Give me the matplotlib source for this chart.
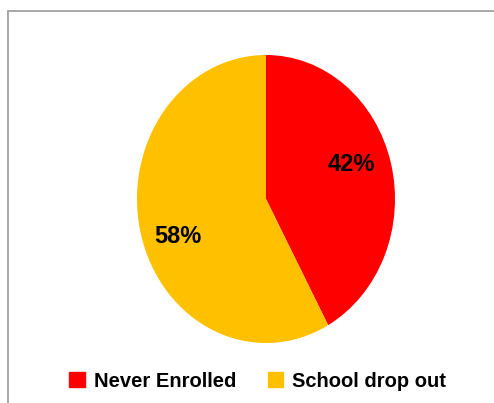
import matplotlib
matplotlib.use("Agg")
import matplotlib.pyplot as plt
import matplotlib.patches as mpatches

# data
labels = ["Never Enrolled", "School drop out"]
shares = [42, 58]
colors = ["#FF0000", "#FFC000"]

FONT = "Liberation Sans"

W, H = 494, 403
fig = plt.figure(figsize=(W / 100, H / 100), dpi=100)

# grey chart-area border (runs off the right and bottom edges)
fig.patches.append(mpatches.Rectangle(
    (8 / W, -0.05), 1.1, (H - 11) / H + 0.05, transform=fig.transFigure,
    facecolor="none", edgecolor="#A0A0A0", linewidth=1.3, zorder=0))

# pie occupies the (slightly stretched) ellipse box
ax = fig.add_axes([137 / W, (H - 343) / H, 258 / W, 288 / H])
wedges, texts = ax.pie(shares, colors=colors, startangle=90, counterclock=False,
                       radius=1.0, wedgeprops=dict(linewidth=0))
ax.set_aspect("auto")
ax.set_xlim(-1, 1)
ax.set_ylim(-1, 1)
ax.axis("off")

# percentage labels
lab_pos = [(0.66, 0.24), (-0.68, -0.26)]
for (x, y), v in zip(lab_pos, shares):
    ax.text(x, y, f"{v}%", ha="center", va="center", fontsize=17,
            fontweight="bold", family=FONT, color="black")

handles = [mpatches.Patch(color=c, label=l) for c, l in zip(colors, labels)]
fig.legend(handles=handles, loc="center", bbox_to_anchor=(0.522, 0.054), ncol=2,
           frameon=False, prop=dict(family=FONT, weight="bold", size=14.5),
           handlelength=0.75, handleheight=0.75, handletextpad=0.45,
           columnspacing=1.6)

fig.savefig("out.png", dpi=100)
